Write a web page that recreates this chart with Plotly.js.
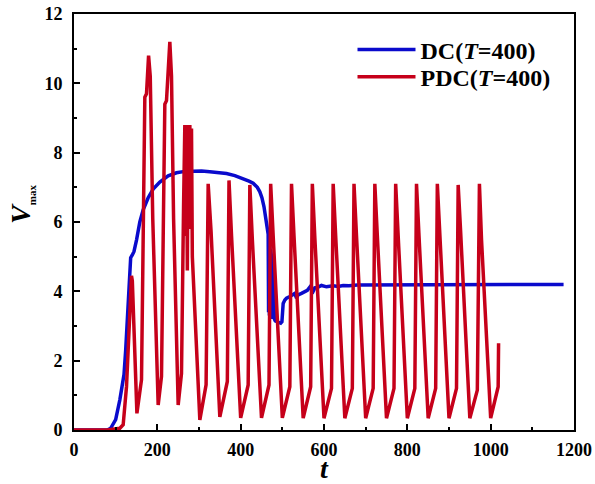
<!DOCTYPE html>
<html>
<head>
<meta charset="utf-8">
<script src="https://cdn.plot.ly/plotly-3.0.1.min.js"></script>
<style>html,body{margin:0;padding:0;background:#fff;}#chart{width:595px;height:484px;}</style>
</head>
<body>
<div id="chart"></div>
<script>
// ---- Data ----
var seriesNames = ['DC(<i>T</i>=400)', 'PDC(<i>T</i>=400)'];

var dcT = [0, 80, 88, 100, 110, 116, 120, 124, 128, 131, 134, 136, 140, 144, 150, 158, 166, 178, 190, 206, 226, 246, 266, 286, 306, 326, 346, 366, 386, 406, 420, 430, 440, 446, 451, 456, 461, 464, 466, 467, 468, 469, 470, 471, 472, 473, 474, 475, 476, 477, 478, 479, 480, 481, 483, 490, 496, 499, 502, 506, 510, 518, 530, 534, 538, 546, 554, 560, 566, 570, 574, 578, 586, 594, 606, 622, 634, 646, 660, 680, 700, 725, 750, 1175];
var dcV = [0, 0, 0.05, 0.3, 0.87, 1.3, 1.6, 2.3, 3.3, 4.2, 4.8, 4.97, 5.05, 5.15, 5.48, 6.0, 6.35, 6.7, 6.95, 7.15, 7.33, 7.42, 7.46, 7.47, 7.47, 7.45, 7.42, 7.40, 7.34, 7.26, 7.18, 7.12, 7.0, 6.87, 6.7, 6.44, 6.06, 5.8, 5.65, 3.4, 5.5, 3.3, 5.4, 3.25, 5.2, 3.3, 5.0, 3.2, 4.8, 3.25, 4.6, 3.2, 4.3, 3.2, 3.15, 3.1, 3.08, 3.12, 3.65, 3.75, 3.8, 3.85, 3.94, 3.8, 3.9, 3.94, 3.99, 4.03, 4.12, 4.05, 4.0, 4.1, 4.12, 4.17, 4.13, 4.16, 4.14, 4.17, 4.16, 4.18, 4.18, 4.2, 4.2, 4.2];

var pdcT = [0, 80, 110, 118, 126, 134, 138, 140, 151, 162, 166, 170, 174, 179, 183, 186, 189, 202, 210, 214, 218, 222, 230, 234, 236, 239, 250, 258, 263, 266, 268, 270, 272, 274, 276, 278, 280, 282, 284, 302,
  317, 322, 329, 350,
  368, 372, 378, 400,
  418, 422, 428, 450,
  468, 472, 478, 500,
  518, 522, 528, 550,
  568, 572, 578, 600,
  618, 622, 628, 650,
  668, 672, 678, 700,
  718, 722, 728, 750,
  768, 772, 778, 800,
  818, 822, 828, 850,
  868, 872, 878, 900,
  918, 922, 928, 950,
  968, 973, 978, 1000,
  1018, 1019];
var pdcV = [0, 0, 0.05, 0.15, 1.25, 3.27, 4.45, 4.3, 0.48, 1.45, 5.5, 9.6, 9.7, 10.8, 10.2, 8.0, 6.1, 0.72, 1.55, 5.5, 9.4, 9.5, 11.2, 10.2, 8.0, 6.1, 0.72, 1.63, 6.5, 8.8, 5.6, 8.8, 4.6, 8.8, 5.8, 8.8, 7.0, 8.7, 5.0, 0.29,
  1.3, 7.1, 5.72, 0.38,
  1.4, 7.2, 5.62, 0.35,
  1.3, 7.07, 5.5, 0.35,
  1.3, 7.1, 5.6, 0.35,
  1.25, 7.1, 5.6, 0.34,
  1.25, 7.1, 5.55, 0.34,
  1.2, 7.1, 5.6, 0.34,
  1.2, 7.1, 5.6, 0.34,
  1.2, 7.1, 5.6, 0.34,
  1.2, 7.1, 5.6, 0.34,
  1.2, 7.1, 5.6, 0.34,
  1.2, 7.1, 5.65, 0.34,
  1.2, 7.07, 5.7, 0.34,
  1.15, 7.1, 5.5, 0.34,
  1.25, 2.5];

var xTicks = [0, 200, 400, 600, 800, 1000, 1200];
var yTicks = [0, 2, 4, 6, 8, 10, 12];

// ---- Styling ----
var serif = 'Liberation Serif, Times New Roman, serif';
var black = '#000000';

var traces = [
  {x: dcT, y: dcV, type: 'scatter', mode: 'lines', name: seriesNames[0], legend: 'legend',
   line: {color: '#0A0ACC', width: 3.5}},
  {x: pdcT, y: pdcV, type: 'scatter', mode: 'lines', name: seriesNames[1], legend: 'legend2',
   line: {color: '#C6001A', width: 3.5}}
];

var axisCommon = {
  showline: true, linecolor: black, linewidth: 2, mirror: true,
  showgrid: false, zeroline: false,
  ticks: 'inside', ticklen: 6, tickwidth: 2, tickcolor: black,
  tickfont: {family: serif, size: 18, color: black, weight: 'bold'},
  minor: {ticks: 'inside', ticklen: 3, tickwidth: 2, tickcolor: black, showgrid: false}
};

var legendCommon = {
  xanchor: 'left', yanchor: 'middle',
  bgcolor: 'rgba(0,0,0,0)', borderwidth: 0, itemwidth: 58,
  font: {family: serif, size: 24, color: black, weight: 'bold'}
};

var layout = {
  width: 595, height: 484,
  margin: {l: 74, r: 21, t: 14, b: 54, pad: 0},
  paper_bgcolor: '#ffffff', plot_bgcolor: '#ffffff',
  font: {family: serif, color: black},
  showlegend: true,
  legend: Object.assign({}, legendCommon, {x: 0.557, y: 0.9135}),
  legend2: Object.assign({}, legendCommon, {x: 0.557, y: 0.848}),
  xaxis: Object.assign({}, axisCommon, {
    range: [0, 1200], tickmode: 'array', tickvals: xTicks, ticktext: xTicks.map(String),
    minor: Object.assign({}, axisCommon.minor, {dtick: 100, tick0: 0}),
    ticklabelstandoff: 2,
    title: {text: '<i>t</i>', font: {family: serif, size: 28, color: black, weight: 'bold'}, standoff: 9}
  }),
  yaxis: Object.assign({}, axisCommon, {
    range: [0, 12], tickmode: 'array', tickvals: yTicks, ticktext: yTicks.map(String),
    minor: Object.assign({}, axisCommon.minor, {dtick: 1, tick0: 0}),
    ticklabelstandoff: 6
  }),
  annotations: [
    {text: '<i>V</i><sub><span style="font-size:11px">max</span></sub>',
     xref: 'paper', yref: 'paper', x: -0.104, y: 0.541, xanchor: 'center', yanchor: 'middle',
     textangle: -90, showarrow: false,
     font: {family: serif, size: 28, color: black, weight: 'bold'}}
  ]
};

Plotly.newPlot('chart', traces, layout, {displayModeBar: false, staticPlot: true});
</script>
</body>
</html>
